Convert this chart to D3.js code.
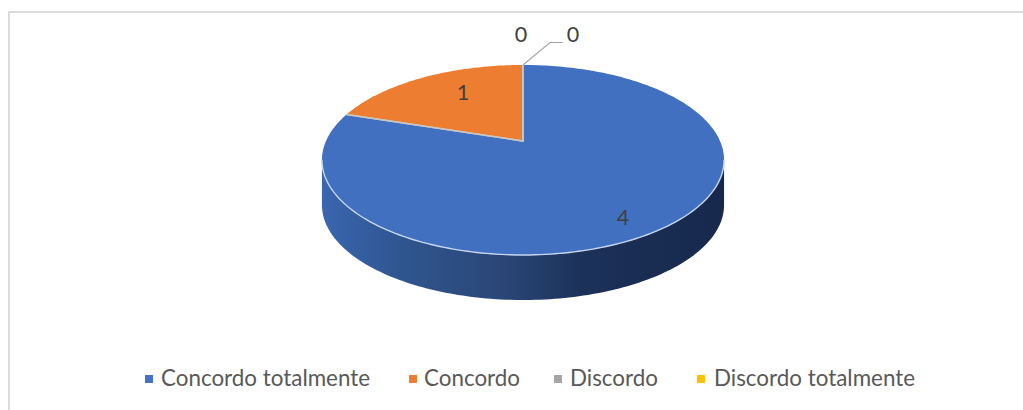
<!DOCTYPE html>
<html><head><meta charset="utf-8">
<script src="https://cdnjs.cloudflare.com/ajax/libs/d3/7.8.5/d3.min.js"></script>
<style>html,body{margin:0;padding:0;background:#fff}svg{display:block}</style>
</head><body><svg id="c" width="1023" height="410"></svg>
<script>
const categories = ["Concordo totalmente","Concordo","Discordo","Discordo totalmente"];
const values = [4,1,0,0];
const colors = ["#4472c4","#ed7d31","#a5a5a5","#ffc000"];

const svg = d3.select("#c");
svg.append("path").attr("d","M9,410V12H1023").attr("fill","none").attr("stroke","#dcdcdc").attr("stroke-width",2);

const cx=523, apexY=141, c=197, k=0.2, a=-63, depth=45;
const project = t => { const u=Math.sin(t), v=Math.cos(t), d=1+k*v; return [cx+c*u/d,(apexY+a*v)/d]; };
const arcs = d3.pie().sort(null)(values);
const lineGen = d3.line();
const sample = (s,e) => { const n=Math.max(1,Math.ceil((e-s)/0.02)); return d3.range(n+1).map(i=>project(s+(e-s)*i/n)); };

const defs=svg.append("defs");
const sideGrad=defs.append("linearGradient").attr("id","side").attr("gradientUnits","userSpaceOnUse").attr("x1",322).attr("x2",724).attr("y1",0).attr("y2",0);
[[0,"#3a66b0"],[0.2,"#2f558f"],[0.45,"#2a4676"],[0.65,"#1c3159"],[1,"#16284c"]].forEach(s=>sideGrad.append("stop").attr("offset",s[0]).attr("stop-color",s[1]));

// side wall: lower half of the rim, extruded
const tangent=Math.acos(-k);
const rim=sample(tangent,2*Math.PI-tangent);
const wall=rim.concat(rim.slice().reverse().map(p=>[p[0],p[1]+depth]));
svg.append("path").attr("d",lineGen(wall)+"Z").attr("fill","url(#side)");

// top slices
arcs.forEach((d,i)=>{
  if(d.endAngle-d.startAngle<=0) return;
  const pts=[[cx,apexY]].concat(sample(d.startAngle,d.endAngle));
  svg.append("path").attr("d",lineGen(pts)+"Z").attr("fill",i===0?"#4070bf":colors[i]);
});
// slice seams and front rim highlight
arcs.forEach(d=>{
  if(d.endAngle-d.startAngle<=0) return;
  const pts=[project(d.startAngle),[cx,apexY],project(d.endAngle)];
  svg.append("path").attr("d",lineGen(pts)).attr("fill","none").attr("stroke","#c9c6c2").attr("stroke-width",1.6);
});
svg.append("path").attr("d",lineGen(rim)).attr("fill","none").attr("stroke","#c6d6f0").attr("stroke-width",1.4);

const labelPos=[[623,225],[463,100],[521,42],[573,42]];
values.forEach((v,i)=>svg.append("text").attr("x",labelPos[i][0]).attr("y",labelPos[i][1]).attr("text-anchor","middle")
  .attr("font-family","Lato, 'Open Sans', sans-serif").attr("font-size",21.5).attr("fill","#404040").text(String(v)));

// leader line for the zero label
svg.append("path").attr("d",lineGen([project(0),[cx+27,42.5],[cx+40,42.5]])).attr("fill","none").attr("stroke","#a6a6a6").attr("stroke-width",1.2);

// legend
const legX=[145,409,554,697], legT=[161,424,570,714];
categories.forEach((n,i)=>{
  svg.append("rect").attr("x",legX[i]).attr("y",375).attr("width",8).attr("height",8).attr("fill",colors[i]);
  svg.append("text").attr("x",legT[i]).attr("y",386).attr("font-family","Lato, sans-serif").attr("font-size",22.4).attr("fill","#595959").text(n);
});
</script></body></html>
